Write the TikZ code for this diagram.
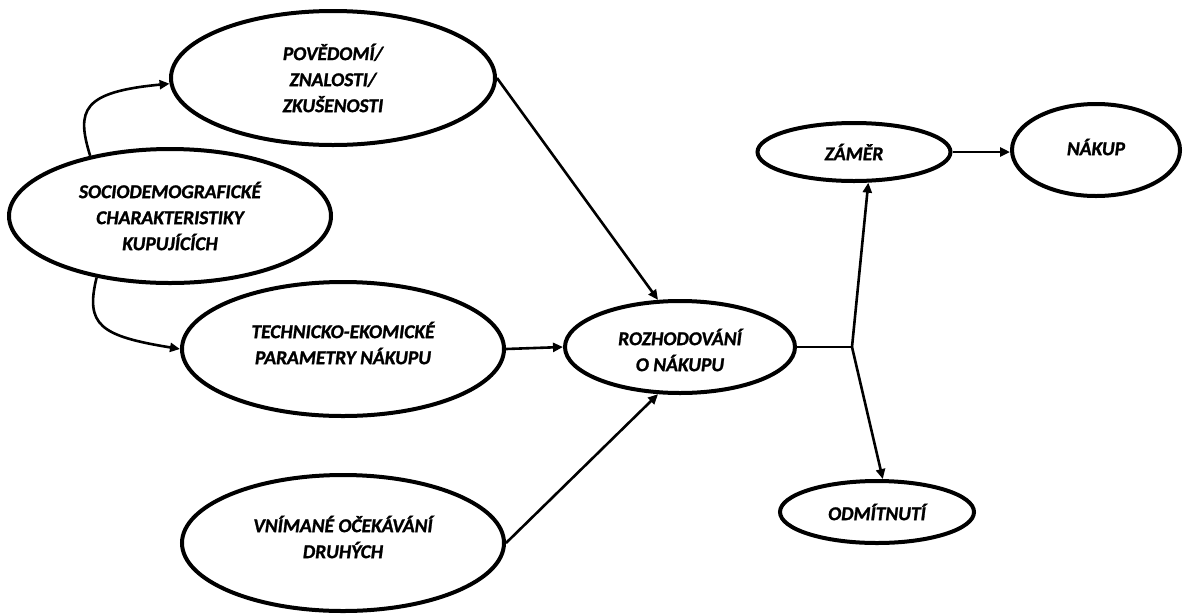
\documentclass[tikz,border=0pt]{standalone}
\usepackage{fontspec}
\newfontfamily\lblfont{Carlito Bold Italic}[FakeBold=1.3]
\usetikzlibrary{shapes.geometric,arrows.meta}
\begin{document}
\begin{tikzpicture}[x=1pt,y=-1pt,
  oval/.style={draw=black,line width=4pt,ellipse,inner sep=0pt,fill=white},
  txt/.style={align=center,font=\lblfont\fontsize{19.5}{26}\selectfont,inner sep=0pt},
  arr/.style={line width=2.6pt,-{Triangle[length=10pt,width=9pt]}},
  ln/.style={line width=2.6pt}]
  % canvas
  \fill[white] (0,0) rectangle (1185,614);
  \useasboundingbox (0,0) rectangle (1185,614);

  % factors on the left
  \node[oval,minimum width=324pt,minimum height=134pt,
        label={[txt]center:POVĚDOMÍ/\\ZNALOSTI/\\ZKUŠENOSTI}] (pov) at (333,78) {};
  \node[oval,minimum width=322pt,minimum height=134pt,
        label={[txt]center:SOCIODEMOGRAFICKÉ\\CHARAKTERISTIKY\\KUPUJÍCÍCH}] (soc) at (170,216) {};
  \node[oval,minimum width=322pt,minimum height=134pt,
        label={[txt,yshift=6pt]center:TECHNICKO-EKOMICKÉ\\PARAMETRY NÁKUPU}] (tech) at (343,349) {};
  \node[oval,minimum width=322pt,minimum height=136pt,
        label={[txt,yshift=6pt]center:VNÍMANÉ OČEKÁVÁNÍ\\DRUHÝCH}] (vni) at (343,543) {};

  % decision and outcomes
  \node[oval,minimum width=230pt,minimum height=92pt,
        label={[txt,yshift=-3pt]center:ROZHODOVÁNÍ\\O NÁKUPU}] (roz) at (680,347) {};
  \node[oval,minimum width=193pt,minimum height=58pt,
        label={[txt]center:ZÁMĚR}] (zam) at (854,152) {};
  \node[oval,minimum width=168pt,minimum height=92pt,
        label={[txt,yshift=3pt]center:NÁKUP}] (nak) at (1096,150) {};
  \node[oval,minimum width=194pt,minimum height=62pt,
        label={[txt]center:ODMÍTNUTÍ}] (odm) at (877,512) {};

  % influences
  \draw[arr] (soc.143) .. controls (76,110) and (82,92) .. (pov.182);
  \draw[arr] (soc.220) .. controls (85,325) and (100,336) .. (tech.west);
  \draw[arr] (pov.east) -- (roz.115);
  \draw[arr] (tech.east) -- (roz.west);
  \draw[arr] (vni.east) -- (roz.245);

  % branching after the decision
  \coordinate (j) at (852,347);
  \draw[ln] (roz.east) -- (j);
  \draw[arr] (j) -- (zam.-65);
  \draw[arr] (j) -- (odm.80);
  \draw[arr] (zam.east) -- (zam.east -| nak.west);
\end{tikzpicture}
\end{document}
